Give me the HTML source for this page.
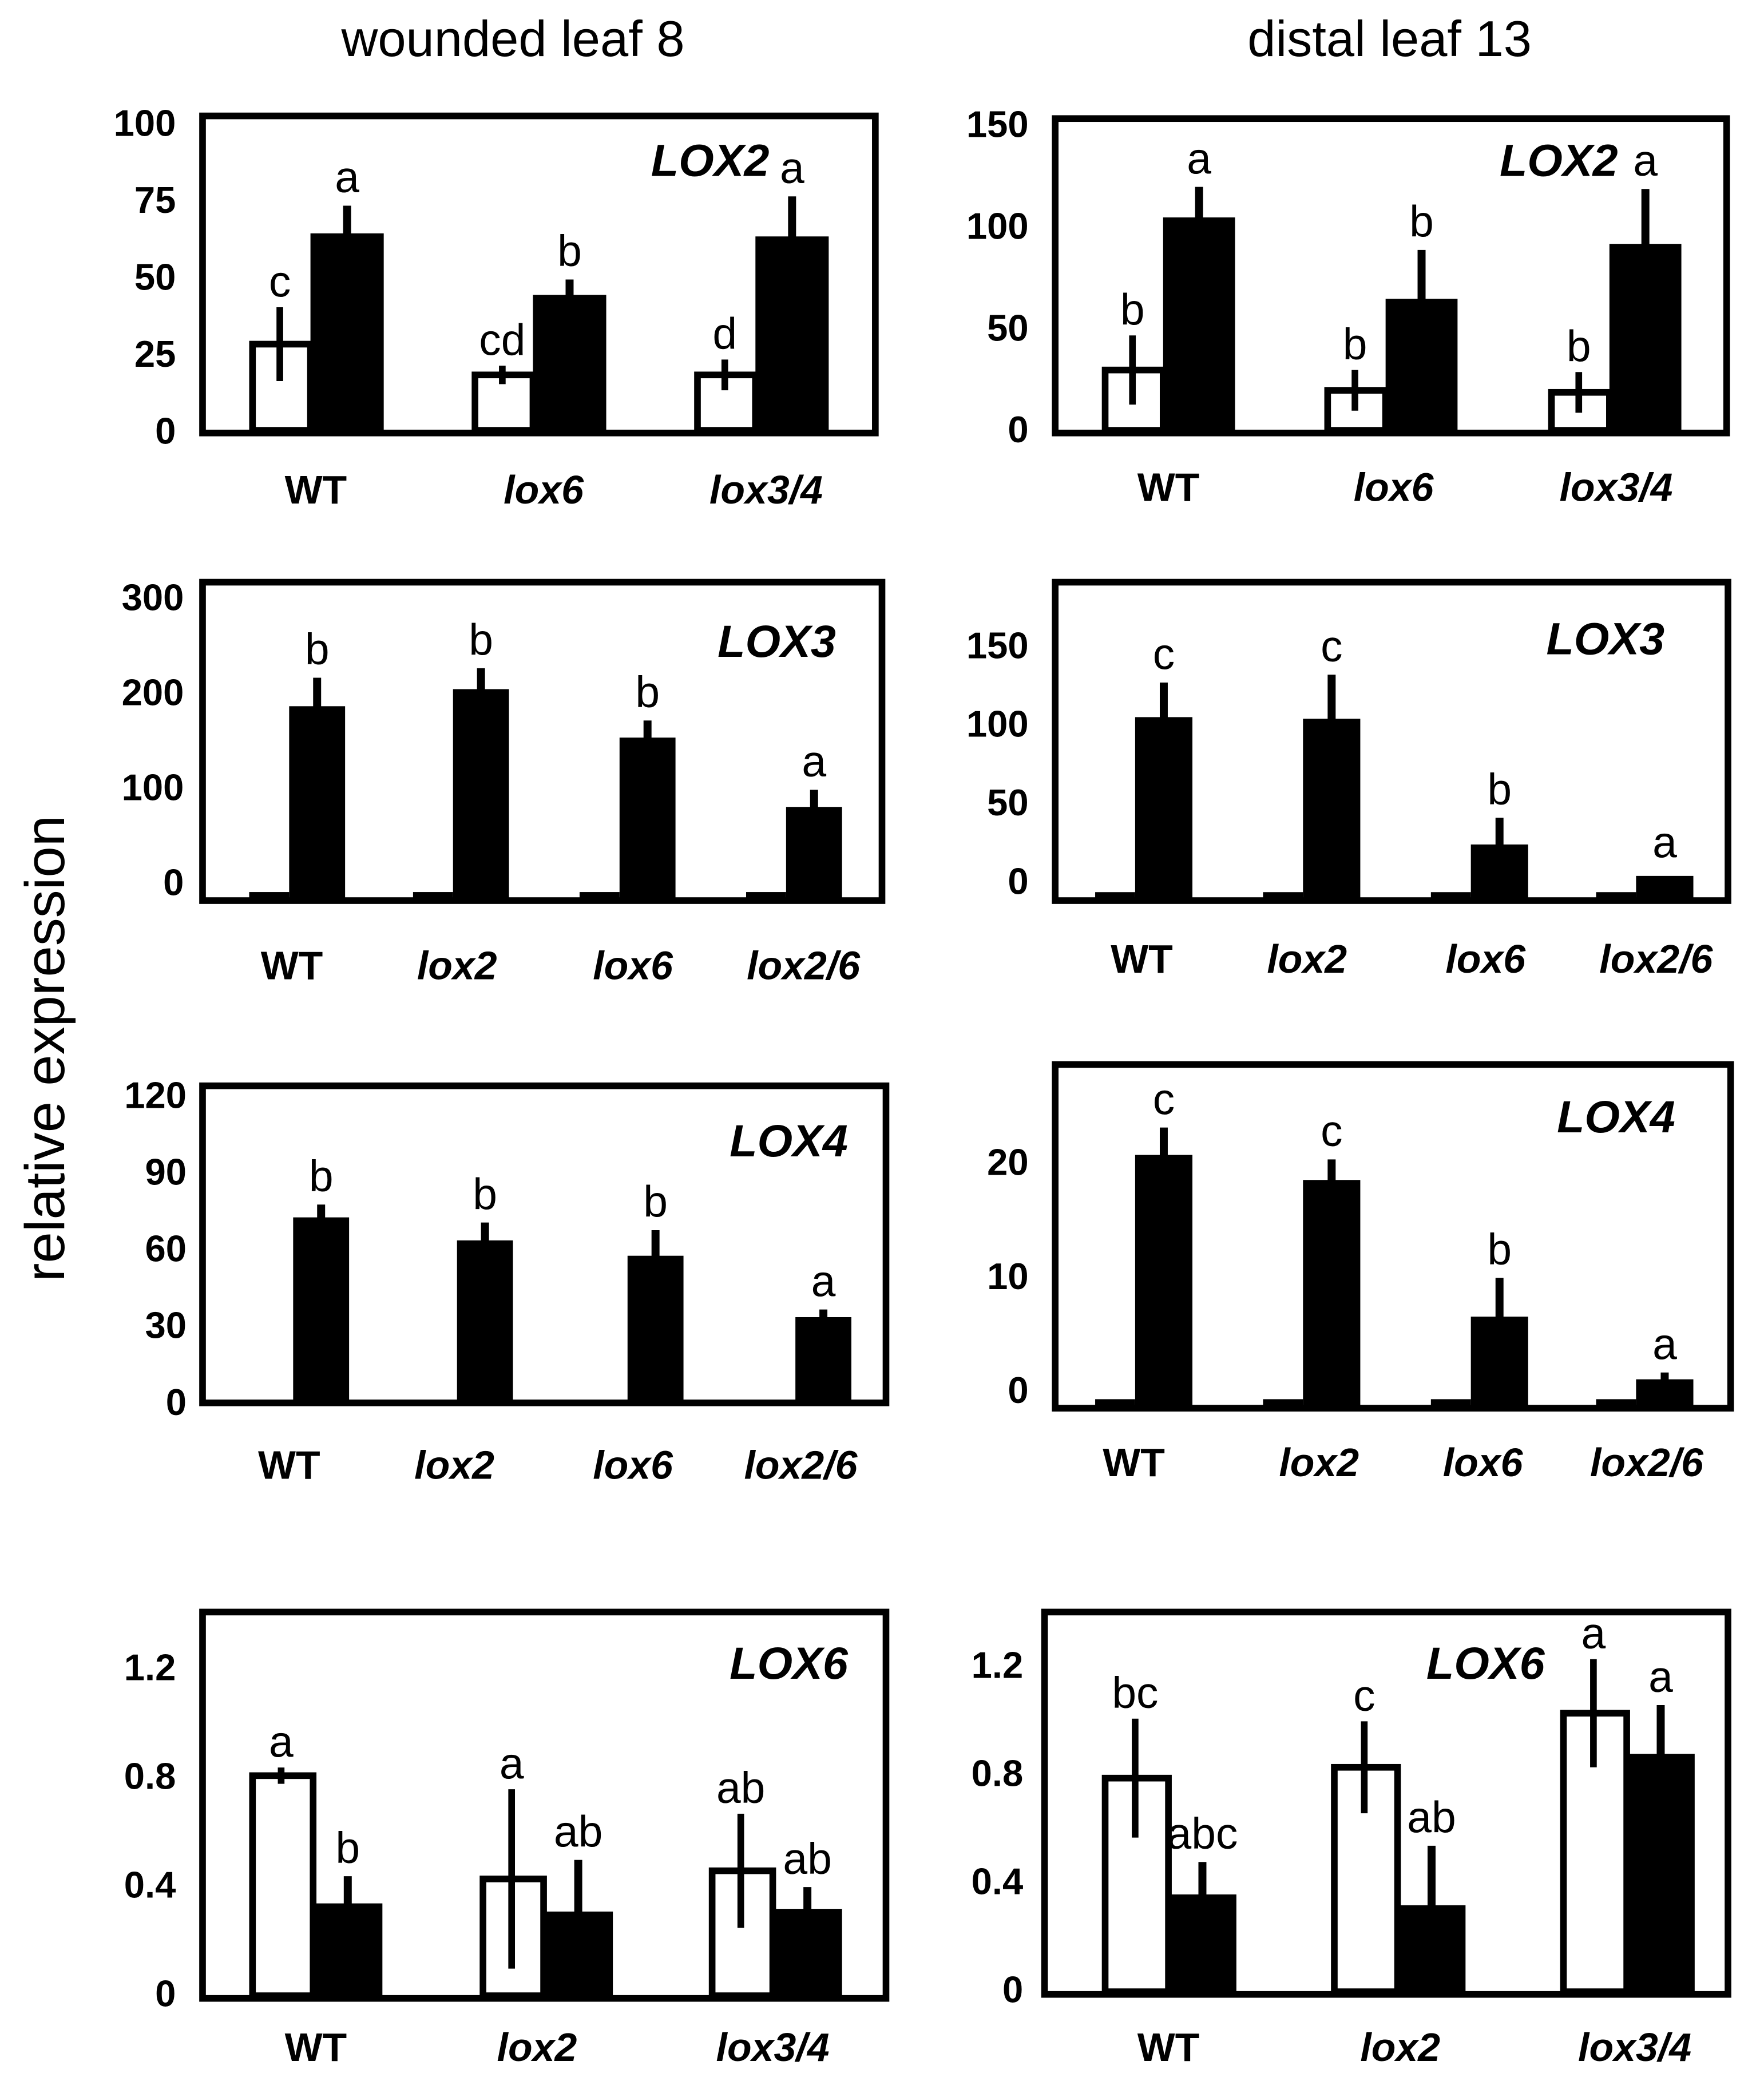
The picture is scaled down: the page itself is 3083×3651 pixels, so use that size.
<!DOCTYPE html>
<html><head><meta charset="utf-8"><style>
html,body{margin:0;padding:0;background:#fff;}
svg{display:block;}
text{font-family:"Liberation Sans",sans-serif;}
</style></head><body>
<svg id="chart" width="3083" height="3651" viewBox="0 0 1324 1568" xmlns="http://www.w3.org/2000/svg">
<text x="385" y="42" font-size="38" text-anchor="middle">wounded leaf 8</text>
<text x="1043" y="42" font-size="38" text-anchor="middle">distal leaf 13</text>
<text transform="translate(48,787) rotate(-90)" font-size="42" text-anchor="middle">relative expression</text>
</svg>
<script>
// ---- data ----
const p1_cats=["WT","lox6","lox3/4"], p1_white=[28,18,18], p1_whiteErr=[12,3,5], p1_black=[64,44,63], p1_blackErr=[9,5,13], p1_wl=["c","cd","d"], p1_bl=["a","b","a"], p1_ticks=[0,25,50,75,100];
const p2_cats=["WT","lox6","lox3/4"], p2_white=[29,19,18], p2_whiteErr=[17,10,10], p2_black=[104,64,91], p2_blackErr=[15,24,27], p2_wl=["b","b","b"], p2_bl=["a","b","a"], p2_ticks=[0,50,100,150];
const p3_cats=["WT","lox2","lox6","lox2/6"], p3_white=[2,2,2,2], p3_whiteErr=[0,0,0,0], p3_black=[185,203,152,79], p3_blackErr=[30,22,18,18], p3_wl=["","","",""], p3_bl=["b","b","b","a"], p3_ticks=[0,100,200,300];
const p4_cats=["WT","lox2","lox6","lox2/6"], p4_white=[1,1,1,1], p4_whiteErr=[0,0,0,0], p4_black=[104,103,23,3], p4_blackErr=[22,28,17,0], p4_wl=["","","",""], p4_bl=["c","c","b","a"], p4_ticks=[0,50,100,150];
const p5_cats=["WT","lox2","lox6","lox2/6"], p5_white=[0,0,0,0], p5_whiteErr=[0,0,0,0], p5_black=[72,63,57,33], p5_blackErr=[5,7,10,3], p5_wl=["","","",""], p5_bl=["b","b","b","a"], p5_ticks=[0,30,60,90,120];
const p6_cats=["WT","lox2","lox6","lox2/6"], p6_white=[0.3,0.3,0.3,0.3], p6_whiteErr=[0,0,0,0], p6_black=[20.6,18.4,6.4,0.9], p6_blackErr=[2.4,1.8,3.4,0.6], p6_wl=["","","",""], p6_bl=["c","c","b","a"], p6_ticks=[0,10,20];
const p7_cats=["WT","lox2","lox3/4"], p7_white=[0.80,0.42,0.45], p7_whiteErr=[0.03,0.33,0.21], p7_black=[0.33,0.30,0.31], p7_blackErr=[0.1,0.19,0.08], p7_wl=["a","a","ab"], p7_bl=["b","ab","ab"], p7_ticks=[0,0.4,0.8,1.2];
const p8_cats=["WT","lox2","lox3/4"], p8_white=[0.78,0.82,1.02], p8_whiteErr=[0.22,0.17,0.2], p8_black=[0.35,0.31,0.87], p8_blackErr=[0.12,0.22,0.18], p8_wl=["bc","c","a"], p8_bl=["abc","ab","a"], p8_ticks=[0,0.4,0.8,1.2];
// ---- layout ----
const panels=[
 {id:"p1",gene:"LOX2",x1:152,x2:657,y1:87,y2:325,z:323,k:2.31,bx:[233,400,567],bw:55,ww:46,lx:[237,408,575],ly:378,gx:533,gy:132,tx:132,dec:0,cats:p1_cats,w:p1_white,we:p1_whiteErr,b:p1_black,be:p1_blackErr,wl:p1_wl,bl:p1_bl,t:p1_ticks},
 {id:"p2",gene:"LOX2",x1:792,x2:1296,y1:89,y2:325,z:322,k:1.527,bx:[873,1040,1208],bw:54,ww:46,lx:[877,1046,1213],ly:376,gx:1170,gy:132,tx:772,dec:0,cats:p2_cats,w:p2_white,we:p2_whiteErr,b:p2_black,be:p2_blackErr,wl:p2_wl,bl:p2_bl,t:p2_ticks},
 {id:"p3",gene:"LOX3",x1:152,x2:662,y1:437,y2:676,z:662,k:0.713,bx:[217,340,465,590],bw:42,ww:34,lx:[219,343,475,603],ly:735,gx:583,gy:493,tx:138,dec:0,cats:p3_cats,w:p3_white,we:p3_whiteErr,b:p3_black,be:p3_blackErr,wl:p3_wl,bl:p3_bl,t:p3_ticks},
 {id:"p4",gene:"LOX3",x1:792,x2:1297,y1:437,y2:676,z:661,k:1.18,bx:[852,978,1104,1228],bw:43,ww:34,lx:[857,981,1115,1243],ly:730,gx:1205,gy:491,tx:772,dec:0,cats:p4_cats,w:p4_white,we:p4_whiteErr,b:p4_black,be:p4_blackErr,wl:p4_wl,bl:p4_bl,t:p4_ticks},
 {id:"p5",gene:"LOX4",x1:152,x2:665,y1:815,y2:1053,z:1052,k:1.92,bx:[220,343,471,597],bw:42,ww:34,lx:[217,341,475,601],ly:1110,gx:592,gy:868,tx:140,dec:0,cats:p5_cats,w:p5_white,we:p5_whiteErr,b:p5_black,be:p5_blackErr,wl:p5_wl,bl:p5_bl,t:p5_ticks},
 {id:"p6",gene:"LOX4",x1:792,x2:1299,y1:799,y2:1057,z:1043,k:8.55,bx:[852,978,1104,1228],bw:43,ww:34,lx:[851,990,1113,1236],ly:1108,gx:1213,gy:850,tx:772,dec:0,cats:p6_cats,w:p6_white,we:p6_whiteErr,b:p6_black,be:p6_blackErr,wl:p6_wl,bl:p6_bl,t:p6_ticks},
 {id:"p7",gene:"LOX6",x1:152,x2:665,y1:1210,y2:1500,z:1496,k:204,bx:[235,408,580],bw:52,ww:48,lx:[237,403,580],ly:1547,gx:592,gy:1260,tx:132,dec:1,cats:p7_cats,w:p7_white,we:p7_whiteErr,b:p7_black,be:p7_blackErr,wl:p7_wl,bl:p7_bl,t:p7_ticks},
 {id:"p8",gene:"LOX6",x1:784,x2:1297,y1:1210,y2:1497,z:1493,k:203,bx:[877,1049,1221],bw:51,ww:50,lx:[877,1051,1227],ly:1547,gx:1115,gy:1260,tx:768,dec:1,cats:p8_cats,w:p8_white,we:p8_whiteErr,b:p8_black,be:p8_blackErr,wl:p8_wl,bl:p8_bl,t:p8_ticks}
];
const NS="http://www.w3.org/2000/svg", svg=document.getElementById("chart");
function mk(tag,at,parent){const e=document.createElementNS(NS,tag);for(const a in at)e.setAttribute(a,at[a]);(parent||svg).appendChild(e);return e;}
panels.forEach(P=>{
 const g=mk("g",{});
 
 
 const y=v=>P.z-v*P.k;
 const base=P.y2-2;
 P.t.forEach(t=>{
  const tl=mk("text",{x:P.tx,y:y(t)+10,"font-size":28,"font-weight":"bold","text-anchor":"end"},g);
  tl.textContent=P.dec?(t===0?"0":t.toFixed(1)):String(t);
  
  
 });
 P.cats.forEach((c,i)=>{
  const bx=P.bx[i], wx=bx-P.ww;
  if(P.w[i]>0){
   const wt=y(P.w[i]);
   let wr;
   if(P.w[i]*P.k<8){
    wr=mk("rect",{x:wx+4,y:base-4-P.w[i]*P.k*0.3,width:P.ww-4,height:4+P.w[i]*P.k*0.3,fill:"#000"},g);
   } else {
    wr=mk("rect",{x:wx+2.5,y:wt,width:P.ww-2.5,height:base-wt,fill:"#fff",stroke:"#000","stroke-width":5},g);
   }
   
   
   if(P.we[i]>0){
    const we=mk("line",{x1:wx+P.ww/2,x2:wx+P.ww/2,y1:y(P.w[i]+P.we[i]),y2:Math.min(y(P.w[i]-P.we[i]),base),stroke:"#000","stroke-width":5},g);
    
    
   }
   if(P.wl[i]){
    const l=mk("text",{x:wx+P.ww/2,y:y(P.w[i]+P.we[i])-8,"font-size":33,"text-anchor":"middle"},g);
    l.textContent=P.wl[i];
    
    
   }
  }
  const bt=Math.min(y(P.b[i]),base-6);
  const br=mk("rect",{x:bx,y:bt,width:P.bw,height:base-bt,fill:"#000"},g);
  
  
  if(P.be[i]>0){
   const be=mk("line",{x1:bx+P.bw/2,x2:bx+P.bw/2,y1:Math.min(y(P.b[i]+P.be[i]),bt-4),y2:bt+2,stroke:"#000","stroke-width":6},g);
   
   
  }
  if(P.bl[i]){
   const l=mk("text",{x:bx+P.bw/2,y:Math.min(y(P.b[i]+P.be[i]),bt-4)-10,"font-size":33,"text-anchor":"middle"},g);
   l.textContent=P.bl[i];
   
   
  }
  const cl=mk("text",{x:P.lx[i],y:P.ly,"font-size":30,"font-weight":"bold","font-style":c==="WT"?"normal":"italic","text-anchor":"middle"},g);
  cl.textContent=c;
  
  
 });
 const box=mk("rect",{x:P.x1,y:P.y1,width:P.x2-P.x1,height:P.y2-P.y1,fill:"none",stroke:"#000","stroke-width":5},g);
 
 
 const gl=mk("text",{x:P.gx,y:P.gy,"font-size":34,"font-weight":"bold","font-style":"italic","text-anchor":"middle"},g);
 gl.textContent=P.gene;
 
 
});
</script>
</body></html>
